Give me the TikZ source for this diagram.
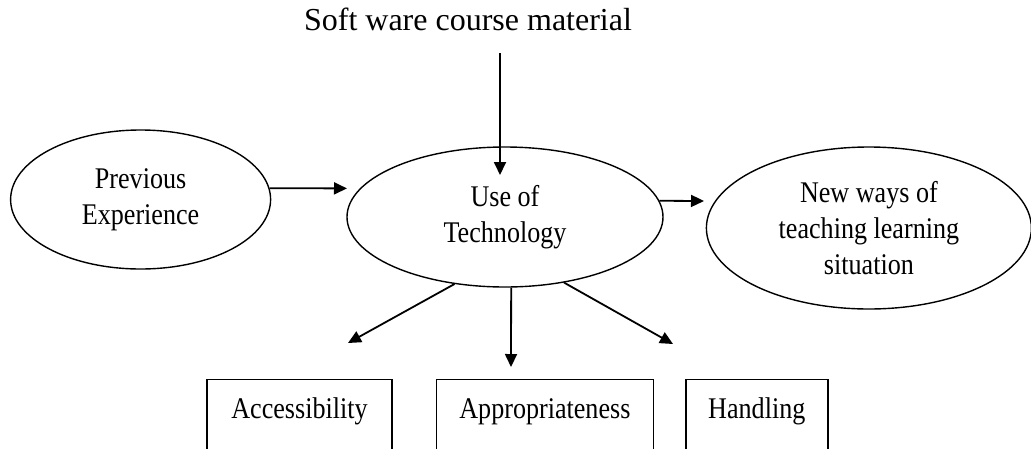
\documentclass[tikz,border=0pt]{standalone}
\usepackage{fontspec}
\setmainfont{Liberation Serif}
\newfontfamily\narrowserif[FakeStretch=0.87]{Liberation Serif}
\usetikzlibrary{shapes.geometric,positioning,arrows.meta}
\tikzset{idea/.style={ellipse,draw,line width=1.4pt,align=center,inner sep=0pt,font=\narrowserif\fontsize{30}{36}\selectfont},
         factor/.style={rectangle,draw,line width=1.4pt,anchor=north,inner sep=0pt,text height=39pt,text depth=50pt,font=\narrowserif\fontsize{30}{36}\selectfont},
         arr/.style={-{Triangle[length=13pt,width=12pt]},line width=1.8pt}}

\begin{document}
\begin{tikzpicture}[x=1pt,y=-1pt]
                   \clip (0,0) rectangle (1031,448);
                   \node[idea,minimum width=316pt,minimum height=140pt] (tech) at (505,217) {Use of\\Technology};
                   \node[idea,minimum width=260pt,minimum height=139pt] (prev) [left=75pt of tech,yshift=17.5pt] {Previous\\Experience};
                   \node[idea,minimum width=325pt,minimum height=162pt] (newway) [right=42pt of tech,yshift=-11pt] {New ways of\\teaching learning\\situation};
                   \node[anchor=base,font=\fontsize{32}{38}\selectfont] (soft) at (468,30) {Soft ware course material};
                   \node[factor,minimum width=185pt] (acc) at (299.5,379) {Accessibility};
                   \node[factor,minimum width=217pt] (appro) [right=43pt of acc] {Appropriateness};
                   \node[factor,minimum width=142pt] (handl) [right=31pt of appro] {Handling};
                   \coordinate (softout) at (500,53);
                   \coordinate (techin) at (500,175);
                   \coordinate (techleft) at (347,188.4);
                   \coordinate (newin) at (704,201);
                   \coordinate (accin) at (348,343);
                   \coordinate (approin) at (511,367);
                   \coordinate (handlin) at (673,344);
                    \path[arr]
                    (softout) edge (techin)
                    (prev.5) edge (techleft)
                    (tech.6) edge (newin)
                    (tech.233) edge (accin)
                    (tech.275) edge (approin)
                    (tech.312) edge (handlin)
					;
                \end{tikzpicture}
\end{document}
